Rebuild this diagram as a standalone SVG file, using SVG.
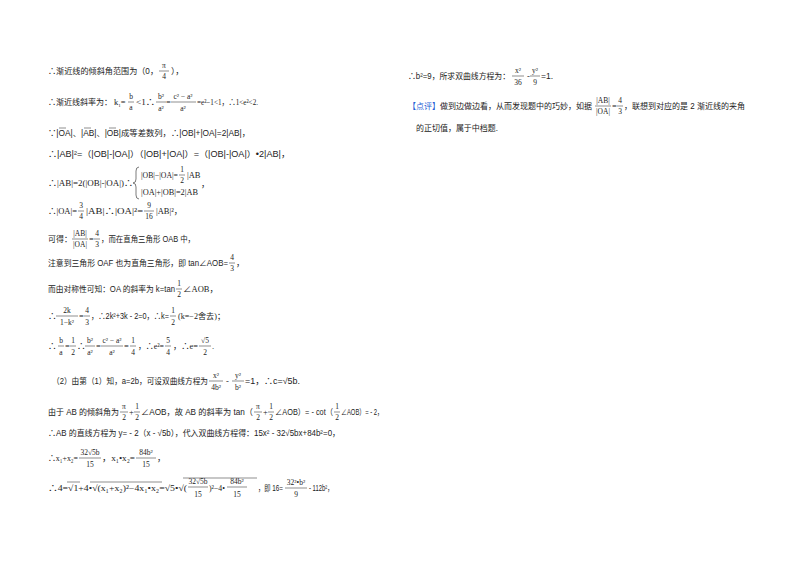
<svg xmlns="http://www.w3.org/2000/svg" width="800" height="565" viewBox="0 0 800 565">
<style>
text{font-family:"Liberation Sans","Noto Sans CJK SC",sans-serif;font-size:8.5px;fill:#222}
.m{font-family:"Liberation Serif","Noto Sans CJK SC",serif;font-size:8.5px}
.f{font-family:"Liberation Serif","Noto Sans CJK SC",serif;font-size:7.5px;text-anchor:middle}
.b{stroke:#444;stroke-width:0.6}
.blue{fill:#1f5fd6}
</style>
<rect width="800" height="565" fill="#fff"/>
<g id="left">
<text x="48" y="74" textLength="110" lengthAdjust="spacingAndGlyphs">∴渐近线的倾斜角范围为（0，</text>
<text class="f" x="164" y="68">π</text><line class="b" x1="159" y1="71" x2="169" y2="71"/><text class="f" x="164" y="79">4</text>
<text x="171" y="74">），</text>

<text x="48" y="105" textLength="64" lengthAdjust="spacingAndGlyphs">∴渐近线斜率为：</text>
<text class="m" x="114" y="105">k<tspan font-size="5" dy="2">1</tspan><tspan dy="-2">=</tspan></text>
<text class="f" x="131" y="99">b</text><line class="b" x1="128" y1="102" x2="134" y2="102"/><text class="f" x="131" y="110">a</text>
<text class="m" x="136" y="105" textLength="19" lengthAdjust="spacingAndGlyphs">&lt;1∴</text>
<text class="f" x="161" y="99">b²</text><line class="b" x1="156" y1="102" x2="166" y2="102"/><text class="f" x="161" y="111">a²</text>
<text class="m" x="166" y="105">=</text>
<text class="f" x="183" y="99">c² − a²</text><line class="b" x1="171" y1="102" x2="196" y2="102"/><text class="f" x="183" y="111">a²</text>
<text class="m" x="197" y="105" textLength="61" lengthAdjust="spacingAndGlyphs">=e²−1&lt;1，∴1&lt;e²&lt;2.</text>

<text x="48" y="136" textLength="202" lengthAdjust="spacingAndGlyphs">∵|OA|、|AB|、|OB|成等差数列，∴|OB|+|OA|=2|AB|，</text>
<g class="b"><line x1="59" y1="128" x2="66" y2="128"/><line x1="84" y1="128" x2="91" y2="128"/><line x1="109" y1="128" x2="116" y2="128"/></g>
<text x="48" y="157" textLength="242" lengthAdjust="spacingAndGlyphs">∴|AB|²=（|OB|-|OA|）（|OB|+|OA|）=（|OB|-|OA|）•2|AB|，</text>

<text class="m" x="48" y="186" textLength="85" lengthAdjust="spacingAndGlyphs">∴|AB|=2(|OB|-|OA|)∴</text>
<path d="M139 167 q-3 0 -3 4 v8 q0 4 -3 4 q3 0 3 4 v8 q0 4 3 4" fill="none" stroke="#444" stroke-width="0.7"/>
<text class="m" x="141" y="178" textLength="37" lengthAdjust="spacingAndGlyphs">|OB|−|OA|=</text>
<text class="f" x="182" y="172">1</text><line class="b" x1="179" y1="175" x2="185" y2="175"/><text class="f" x="182" y="183">2</text>
<text class="m" x="187" y="178">|AB</text>
<text class="m" x="141" y="195" textLength="57" lengthAdjust="spacingAndGlyphs">|OA|+|OB|=2|AB</text>
<text class="m" x="201" y="187">，</text>

<text class="m" x="48" y="214" textLength="29" lengthAdjust="spacingAndGlyphs">∴|OA|=</text>
<text class="f" x="81" y="208">3</text><line class="b" x1="78" y1="211" x2="84" y2="211"/><text class="f" x="81" y="219">4</text>
<text class="m" x="86" y="214" textLength="57" lengthAdjust="spacingAndGlyphs">|AB|∴|OA|²=</text>
<text class="f" x="149" y="208">9</text><line class="b" x1="144" y1="211" x2="154" y2="211"/><text class="f" x="149" y="219">16</text>
<text class="m" x="156" y="214">|AB|²，</text>

<text x="48" y="242" textLength="24" lengthAdjust="spacingAndGlyphs">可得：</text>
<text class="f" x="80" y="236">|AB|</text><line class="b" x1="72" y1="239" x2="88" y2="239"/><text class="f" x="80" y="247">|OA|</text>
<text class="m" x="89" y="242">=</text>
<text class="f" x="97" y="236">4</text><line class="b" x1="94" y1="239" x2="100" y2="239"/><text class="f" x="97" y="247">3</text>
<text x="101" y="242" textLength="94" lengthAdjust="spacingAndGlyphs">，而在直角三角形 OAB 中，</text>

<text x="48" y="266" textLength="180" lengthAdjust="spacingAndGlyphs">注意到三角形 OAF 也为直角三角形，即 tan∠AOB=</text>
<text class="f" x="232" y="260">4</text><line class="b" x1="229" y1="263" x2="235" y2="263"/><text class="f" x="232" y="271">3</text>
<text x="236" y="266">，</text>

<text x="48" y="292" textLength="127" lengthAdjust="spacingAndGlyphs">而由对称性可知：OA 的斜率为 k=tan</text>
<text class="f" x="179" y="286">1</text><line class="b" x1="176" y1="289" x2="182" y2="289"/><text class="f" x="179" y="297">2</text>
<text class="m" x="183" y="292">∠AOB，</text>

<text class="m" x="48" y="319">∴</text>
<text class="f" x="67" y="313">2k</text><line class="b" x1="56" y1="316" x2="78" y2="316"/><text class="f" x="67" y="325">1−k²</text>
<text class="m" x="79" y="319">=</text>
<text class="f" x="87" y="313">4</text><line class="b" x1="84" y1="316" x2="90" y2="316"/><text class="f" x="87" y="325">3</text>
<text x="91" y="319" textLength="78" lengthAdjust="spacingAndGlyphs">，∴2k²+3k - 2=0，∴k=</text>
<text class="f" x="173" y="313">1</text><line class="b" x1="170" y1="316" x2="176" y2="316"/><text class="f" x="173" y="325">2</text>
<text class="m" x="178" y="319" textLength="47" lengthAdjust="spacingAndGlyphs">(k=−2舍去)；</text>

<text class="m" x="48" y="349">∴</text>
<text class="f" x="61" y="343">b</text><line class="b" x1="58" y1="346" x2="64" y2="346"/><text class="f" x="61" y="355">a</text>
<text class="m" x="65" y="349">=</text>
<text class="f" x="73" y="343">1</text><line class="b" x1="70" y1="346" x2="76" y2="346"/><text class="f" x="73" y="355">2</text>
<text class="m" x="77" y="349">∴</text>
<text class="f" x="90" y="343">b²</text><line class="b" x1="85" y1="346" x2="95" y2="346"/><text class="f" x="90" y="355">a²</text>
<text class="m" x="96" y="349">=</text>
<text class="f" x="112" y="343">c² − a²</text><line class="b" x1="101" y1="346" x2="123" y2="346"/><text class="f" x="112" y="355">a²</text>
<text class="m" x="124" y="349">=</text>
<text class="f" x="133" y="343">1</text><line class="b" x1="130" y1="346" x2="136" y2="346"/><text class="f" x="133" y="355">4</text>
<text class="m" x="138" y="349" textLength="26" lengthAdjust="spacingAndGlyphs">，∴e²=</text>
<text class="f" x="168" y="343">5</text><line class="b" x1="165" y1="346" x2="171" y2="346"/><text class="f" x="168" y="355">4</text>
<text class="m" x="173" y="349" textLength="25" lengthAdjust="spacingAndGlyphs">，∴e=</text>
<text class="f" x="205" y="343">√5</text><line class="b" x1="199" y1="346" x2="211" y2="346"/><text class="f" x="205" y="355">2</text>
<text class="m" x="212" y="349">.</text>

<text x="52" y="384" textLength="156" lengthAdjust="spacingAndGlyphs">（2）由第（1）知，a=2b，可设双曲线方程为</text>
<text class="f" x="216" y="378">x²</text><line class="b" x1="209" y1="381" x2="223" y2="381"/><text class="f" x="216" y="390">4b²</text>
<text class="m" x="226" y="384">-</text>
<text class="f" x="238" y="378">y²</text><line class="b" x1="232" y1="381" x2="244" y2="381"/><text class="f" x="238" y="390">b²</text>
<text x="245" y="384" textLength="55" lengthAdjust="spacingAndGlyphs">=1，∴c=√5b.</text>

<text x="48" y="415" textLength="71" lengthAdjust="spacingAndGlyphs">由于 AB 的倾斜角为</text>
<text class="f" x="124" y="409">π</text><line class="b" x1="120" y1="412" x2="128" y2="412"/><text class="f" x="124" y="420">2</text>
<text class="m" x="129" y="415">+</text>
<text class="f" x="137" y="409">1</text><line class="b" x1="134" y1="412" x2="140" y2="412"/><text class="f" x="137" y="420">2</text>
<text x="141" y="415" textLength="112" lengthAdjust="spacingAndGlyphs">∠AOB，故 AB 的斜率为 tan（</text>
<text class="f" x="258" y="409">π</text><line class="b" x1="254" y1="412" x2="262" y2="412"/><text class="f" x="258" y="420">2</text>
<text class="m" x="263" y="415">+</text>
<text class="f" x="271" y="409">1</text><line class="b" x1="268" y1="412" x2="274" y2="412"/><text class="f" x="271" y="420">2</text>
<text x="275" y="415" textLength="58" lengthAdjust="spacingAndGlyphs">∠AOB）= - cot（</text>
<text class="f" x="337" y="409">1</text><line class="b" x1="334" y1="412" x2="340" y2="412"/><text class="f" x="337" y="420">2</text>
<text x="341" y="415" textLength="42" lengthAdjust="spacingAndGlyphs">∠AOB）= - 2，</text>

<text x="48" y="436" textLength="292" lengthAdjust="spacingAndGlyphs">∴AB 的直线方程为 y= - 2（x - √5b），代入双曲线方程得：15x² - 32√5bx+84b²=0，</text>

<text class="m" x="48" y="461" textLength="30" lengthAdjust="spacingAndGlyphs">∴x₁+x₂=</text>
<text class="f" x="90" y="455">32√5b</text><line class="b" x1="79" y1="458" x2="101" y2="458"/><text class="f" x="90" y="467">15</text>
<text class="m" x="102" y="461" textLength="33" lengthAdjust="spacingAndGlyphs">，x₁•x₂=</text>
<text class="f" x="146" y="455">84b²</text><line class="b" x1="136" y1="458" x2="156" y2="458"/><text class="f" x="146" y="467">15</text>
<text class="m" x="157" y="461">，</text>

<text class="m" x="48" y="491" textLength="139" lengthAdjust="spacingAndGlyphs">∴4=√1+4•√(x₁+x₂)²−4x₁•x₂=√5•√(</text>
<line class="b" x1="67" y1="482" x2="80" y2="482"/><line class="b" x1="90" y1="482" x2="162" y2="482"/>
<text class="f" x="198" y="484">32√5b</text><line class="b" x1="188" y1="487" x2="208" y2="487"/><text class="f" x="198" y="497">15</text>
<text class="m" x="209" y="491" textLength="16" lengthAdjust="spacingAndGlyphs">)²−4•</text>
<text class="f" x="237" y="484">84b²</text><line class="b" x1="227" y1="487" x2="247" y2="487"/><text class="f" x="237" y="497">15</text>
<line class="b" x1="183" y1="478" x2="257" y2="478"/>
<text x="258" y="491" textLength="25" lengthAdjust="spacingAndGlyphs">，即 16=</text>
<text class="f" x="296" y="485">32²•b²</text><line class="b" x1="285" y1="488" x2="307" y2="488"/><text class="f" x="296" y="497">9</text>
<text x="309" y="491" textLength="24" lengthAdjust="spacingAndGlyphs">- 112b²，</text>
</g>
<g id="right">
<text x="408" y="79" textLength="102" lengthAdjust="spacingAndGlyphs">∴b²=9，所求双曲线方程为：</text>
<text class="f" x="518" y="73">x²</text><line class="b" x1="512" y1="76" x2="524" y2="76"/><text class="f" x="518" y="85">36</text>
<text class="m" x="527" y="79">-</text>
<text class="f" x="535" y="73">y²</text><line class="b" x1="530" y1="76" x2="540" y2="76"/><text class="f" x="535" y="85">9</text>
<text x="541" y="79">=1.</text>

<text x="408" y="109" textLength="184" lengthAdjust="spacingAndGlyphs"><tspan class="blue">【点评】</tspan>做到边做边看，从而发现题中的巧妙，如据</text>
<text class="f" x="603" y="103">|AB|</text><line class="b" x1="595" y1="106" x2="611" y2="106"/><text class="f" x="603" y="114">|OA|</text>
<text class="m" x="612" y="109">=</text>
<text class="f" x="620" y="103">4</text><line class="b" x1="617" y1="106" x2="623" y2="106"/><text class="f" x="620" y="114">3</text>
<text x="624" y="109" textLength="121" lengthAdjust="spacingAndGlyphs">，联想到对应的是 2 渐近线的夹角</text>
<text x="416" y="131" textLength="82" lengthAdjust="spacingAndGlyphs">的正切值，属于中档题.</text>
</g>
</svg>
